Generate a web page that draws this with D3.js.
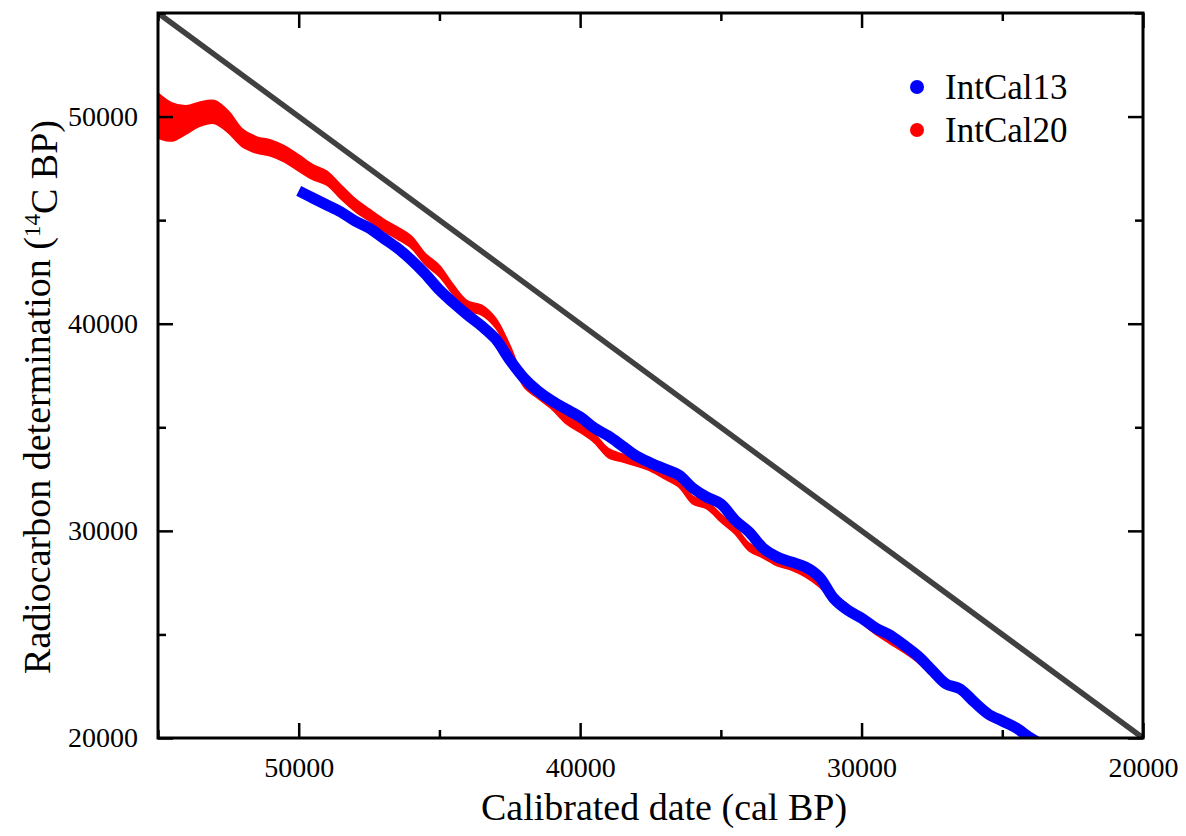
<!DOCTYPE html>
<html>
<head>
<meta charset="utf-8">
<script src="https://cdn.jsdelivr.net/npm/d3@7"></script>
<style>
  body { margin: 0; background: #fff; }
  text { font-family: 'Liberation Serif', 'Times New Roman', serif; fill: #000; }
</style>
</head>
<body>
<script>
// IntCal20 (red band): cal BP, 14C BP, 1 sigma
const calAge20 = [55000, 54500, 54000, 53500, 53000, 52500, 52000, 51500, 51000, 50500,
  50000, 49500, 49000, 48500, 48000, 47500, 47000, 46500, 46000, 45500,
  45000, 44500, 44000, 43500, 43000, 42500, 42000, 41500, 41000, 40500,
  40000, 39500, 39000, 38500, 38000, 37500, 37000, 36500, 36000, 35500,
  35000, 34500, 34000, 33500, 33000, 32500, 32000, 31500, 31000, 30500,
  30000, 29500, 29000, 28500, 28000, 27500, 27000, 26500, 26000, 25500,
  25000, 24500, 24000, 23500]
const c14Age20 = [50050, 49740, 49840, 50120, 50220, 49740, 48970, 48630, 48480, 48190,
  47760, 47320, 47030, 46360, 45730, 45250, 44770, 44380, 43940, 43120,
  42540, 41630, 40860, 40660, 40030, 38730, 37190, 36610, 36080, 35400,
  34970, 34480, 33760, 33520, 33320, 33080, 32700, 32310, 31490, 31250,
  30620, 30040, 29220, 28880, 28500, 28300, 27970, 27480, 26760, 26280,
  25700, 25170, 24730, 24300, 23810, 23140, 22610, 22320, 21690, 21060,
  20770, 20430, 20000, 19520]
const c14Err20 = [1090, 920, 680, 580, 555, 530, 430, 390, 390, 390,
  390, 360, 340, 340, 310, 290, 290, 290, 290, 270,
  270, 240, 240, 240, 240, 240, 240, 220, 220, 220,
  220, 220, 220, 190, 190, 190, 190, 190, 190, 190,
  190, 190, 190, 190, 190, 190, 190, 190, 190, 190,
  170, 170, 170, 170, 170, 170, 170, 170, 170, 150,
  150, 150, 150, 150]

// IntCal13 (blue line)
const calAge13 = [50000, 49500, 49000, 48500, 48000, 47500, 47000, 46500, 46000, 45500,
  45000, 44500, 44000, 43500, 43000, 42500, 42000, 41500, 41000, 40500,
  40000, 39500, 39000, 38500, 38000, 37500, 37000, 36500, 36000, 35500,
  35000, 34500, 34000, 33500, 33000, 32500, 32000, 31500, 31000, 30500,
  30000, 29500, 29000, 28500, 28000, 27500, 27000, 26500, 26000, 25500,
  25000, 24500, 24000, 23500]
const c14Age13 = [46410, 46070, 45730, 45390, 44960, 44620, 44140, 43660, 43080, 42400,
  41630, 41000, 40420, 39890, 39260, 38250, 37380, 36750, 36270, 35880,
  35500, 34970, 34580, 34100, 33610, 33280, 32990, 32700, 32070, 31630,
  31300, 30520, 29950, 29170, 28740, 28500, 28260, 27770, 26760, 26180,
  25790, 25310, 24970, 24490, 23960, 23280, 22610, 22370, 21740, 21160,
  20820, 20480, 20000, 19610]

const oneToOne = [55000, 20000]
const majorTicks = [50000, 40000, 30000, 20000]
const minorTicks = [55000, 45000, 35000, 25000]
const legendNames = ['IntCal13', 'IntCal20']
const legendColors = ['#0000ff', '#ff0000']

const margin = { top: 13, right: 43, bottom: 98, left: 158 }
const width = 1186 - margin.left - margin.right
const height = 836 - margin.top - margin.bottom

const svg = d3.select('body').append('svg')
  .attr('width', 1186)
  .attr('height', 836)
  .append('g')
    .attr('transform', `translate(${margin.left}, ${margin.top})`)

const xScale = d3.scaleLinear().domain([55000, 20000]).range([0, width])
const yScale = d3.scaleLinear().domain([20000, 55000]).range([height, 0])

svg.append('clipPath').attr('id', 'plot-clip')
  .append('rect').attr('width', width).attr('height', height)

const plot = svg.append('g').attr('clip-path', 'url(#plot-clip)')

const band20 = calAge20.map((c, i) => ({ cal: c, lo: c14Age20[i] - c14Err20[i], hi: c14Age20[i] + c14Err20[i] }))
plot.append('path')
  .datum(band20)
  .attr('d', d3.area()
    .x(d => xScale(d.cal))
    .y0(d => yScale(d.lo))
    .y1(d => yScale(d.hi))
    .curve(d3.curveCatmullRom))
  .style('fill', '#ff0000')
  .style('stroke', '#ff0000')
  .style('stroke-width', 1.5)

const line13 = calAge13.map((c, i) => ({ cal: c, c14: c14Age13[i] }))
plot.append('path')
  .datum(line13)
  .attr('d', d3.line()
    .x(d => xScale(d.cal))
    .y(d => yScale(d.c14))
    .curve(d3.curveCatmullRom))
  .style('fill', 'none')
  .style('stroke', '#0000ff')
  .style('stroke-width', 11)
  .style('stroke-linejoin', 'round')

plot.append('path')
  .datum(oneToOne)
  .attr('d', d3.line().x(d => xScale(d)).y(d => yScale(d)))
  .style('stroke', '#404040')
  .style('stroke-width', 5.5)

// axes: ticks point inwards on all four sides
const tickStyle = g => {
  g.select('.domain').remove()
  g.selectAll('.tick line').style('stroke', '#000').style('stroke-width', 2.5)
  g.selectAll('.tick text').style('font-size', '28px').style('fill', '#000')
}

svg.append('g')
  .attr('transform', `translate(0, ${height})`)
  .call(d3.axisBottom(xScale).tickValues(majorTicks).tickSize(-15).tickPadding(19).tickFormat(d3.format('d')))
  .call(tickStyle)
svg.append('g')
  .attr('transform', `translate(0, ${height})`)
  .call(d3.axisBottom(xScale).tickValues(minorTicks).tickSize(-8).tickFormat(''))
  .call(tickStyle)
svg.append('g')
  .call(d3.axisTop(xScale).tickValues(majorTicks).tickSize(-15).tickFormat(''))
  .call(tickStyle)
svg.append('g')
  .call(d3.axisTop(xScale).tickValues(minorTicks).tickSize(-8).tickFormat(''))
  .call(tickStyle)

svg.append('g')
  .call(d3.axisLeft(yScale).tickValues(majorTicks).tickSize(-15).tickPadding(20).tickFormat(d3.format('d')))
  .call(tickStyle)
svg.append('g')
  .call(d3.axisLeft(yScale).tickValues(minorTicks).tickSize(-8).tickFormat(''))
  .call(tickStyle)
svg.append('g')
  .attr('transform', `translate(${width}, 0)`)
  .call(d3.axisRight(yScale).tickValues(majorTicks).tickSize(-15).tickFormat(''))
  .call(tickStyle)
svg.append('g')
  .attr('transform', `translate(${width}, 0)`)
  .call(d3.axisRight(yScale).tickValues(minorTicks).tickSize(-8).tickFormat(''))
  .call(tickStyle)

svg.append('rect')
  .attr('width', width)
  .attr('height', height)
  .style('fill', 'none')
  .style('stroke', '#000')
  .style('stroke-width', 3)

// legend
const legend = svg.selectAll('.legend')
  .data(legendNames)
  .enter().append('g')
  .attr('class', 'legend')
  .attr('transform', (d, i) => `translate(${917 - margin.left}, ${87 - margin.top + i * 43})`)
legend.append('circle')
  .attr('r', 7)
  .style('fill', (d, i) => legendColors[i])
legend.append('text')
  .attr('x', 28)
  .attr('dy', '0.33em')
  .style('font-size', '35px')
  .text(d => d)

// axis titles
svg.append('text')
  .attr('x', 664 - margin.left)
  .attr('y', 820 - margin.top)
  .style('text-anchor', 'middle')
  .style('font-size', '38px')
  .text('Calibrated date (cal BP)')

const yTitle = svg.append('text')
  .attr('transform', `translate(${50 - margin.left}, ${397 - margin.top}) rotate(-90)`)
  .style('text-anchor', 'middle')
  .style('font-size', '38px')
yTitle.append('tspan').text('Radiocarbon determination (')
yTitle.append('tspan').attr('dy', '-0.45em').style('font-size', '23px').text('14')
yTitle.append('tspan').attr('dy', '0.45em').text('C BP)')
</script>
</body>
</html>
